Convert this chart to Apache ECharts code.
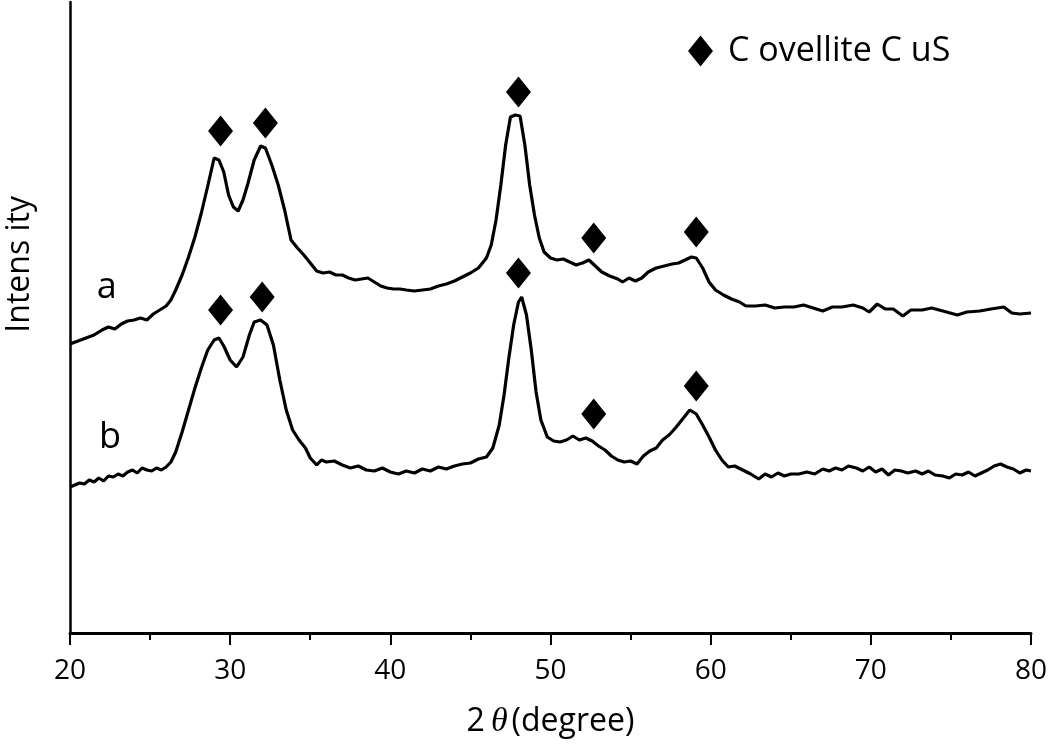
<!DOCTYPE html>
<html>
<head>
<meta charset="utf-8">
<script src="https://cdn.jsdelivr.net/npm/echarts@6/dist/echarts.min.js"></script>
<style>html,body{margin:0;padding:0;background:#fff;}#c{width:1050px;height:749px;}</style>
</head>
<body>
<div id="c"></div>
<script>
// 2θ ticks
const xTicks = [20, 30, 40, 50, 60, 70, 80];

// Curve a: [2θ, intensity (a.u.)]
const curveA = [
[20.0,289],[20.5,292],[21.0,295],[21.5,298],[22.0,303],[22.4,306],[22.8,304],[23.2,309],[23.6,312],[24.0,313],
[24.4,315],[24.8,313],[25.2,319],[25.6,323],[26.0,327],[26.3,333],[26.6,343],[27.0,358],[27.4,376],[27.8,396],
[28.2,420],[28.6,447],[29.0,475],[29.3,473],[29.6,461],[29.9,438],[30.2,426],[30.5,422],[30.8,433],[31.1,449],
[31.5,473],[31.9,487],[32.2,485],[32.6,468],[33.0,448],[33.4,423],[33.8,393],[34.2,385],[34.6,378],[35.0,370],
[35.4,362],[35.8,360],[36.2,361],[36.6,358],[37.0,358],[37.4,355],[37.8,353],[38.2,354],[38.6,355],[39.0,351],
[39.4,347],[39.8,345],[40.2,344],[40.6,344],[41.0,343],[41.5,342],[42.0,343],[42.5,344],[43.0,347],[43.5,349],
[44.0,352],[44.5,356],[45.0,360],[45.5,365],[46.0,375],[46.3,388],[46.6,413],[46.9,448],[47.2,488],[47.5,516],
[47.8,518],[48.1,517],[48.4,488],[48.7,448],[49.0,418],[49.3,395],[49.6,381],[50.0,375],[50.4,373],[50.8,374],
[51.2,371],[51.6,368],[52.0,370],[52.4,373],[52.8,367],[53.2,361],[53.7,357],[54.2,354],[54.5,351],[54.9,355],
[55.3,352],[55.7,355],[56.1,361],[56.6,365],[57.1,367],[57.6,369],[58.0,370],[58.4,373],[58.8,376],[59.1,375],
[59.5,365],[59.9,351],[60.3,343],[60.8,338],[61.3,334],[61.8,331],[62.2,327],[62.8,327],[63.4,328],[64.0,325],
[64.6,326],[65.2,326],[65.8,328],[66.4,325],[67.0,322],[67.6,326],[68.2,326],[68.9,328],[69.5,325],[69.9,321],
[70.4,329],[70.9,324],[71.4,324],[72.0,317],[72.5,323],[73.2,323],[73.8,325],[74.5,322],[75.4,318],[76.0,321],
[76.8,322],[77.5,324],[78.3,326],[78.8,320],[79.3,319],[80.0,320]
];

// Curve b: [2θ, intensity (a.u.)]
const curveB = [
[20.0,146],[20.3,148],[20.6,150],[20.9,149],[21.2,153],[21.5,151],[21.8,155],[22.1,152],[22.4,157],[22.7,156],
[23.0,159],[23.3,157],[23.6,161],[23.9,163],[24.2,160],[24.5,165],[24.8,163],[25.1,162],[25.4,165],[25.7,163],
[26.0,166],[26.3,171],[26.6,181],[27.0,201],[27.4,223],[27.8,245],[28.2,265],[28.6,283],[29.0,293],[29.3,295],
[29.6,287],[30.0,273],[30.4,266],[30.8,276],[31.2,298],[31.5,311],[31.9,313],[32.3,308],[32.7,288],[33.1,253],
[33.5,223],[33.9,203],[34.3,193],[34.7,185],[35.0,175],[35.4,168],[35.7,173],[36.0,171],[36.5,172],[37.0,168],
[37.5,165],[38.0,167],[38.5,163],[39.0,162],[39.5,165],[40.0,161],[40.5,159],[41.0,162],[41.5,160],[42.0,164],
[42.5,162],[43.0,166],[43.5,164],[44.0,167],[44.5,169],[45.0,170],[45.5,174],[46.0,176],[46.4,185],[46.8,208],
[47.1,238],[47.4,275],[47.7,308],[48.0,331],[48.2,336],[48.5,318],[48.8,283],[49.1,241],[49.4,213],[49.8,196],
[50.2,192],[50.6,191],[51.0,193],[51.4,197],[51.8,193],[52.2,195],[52.6,192],[53.0,187],[53.4,183],[53.8,177],
[54.2,173],[54.6,171],[55.0,172],[55.4,169],[55.8,177],[56.2,182],[56.6,185],[57.0,193],[57.4,198],[57.8,205],
[58.2,213],[58.7,223],[59.1,219],[59.5,208],[59.9,196],[60.3,183],[60.7,173],[61.1,166],[61.5,167],[62.0,163],
[62.5,159],[63.0,154],[63.4,159],[63.8,156],[64.2,160],[64.6,157],[65.0,159],[65.5,159],[66.0,161],[66.5,159],
[67.0,164],[67.4,162],[67.8,165],[68.2,163],[68.6,167],[69.1,165],[69.5,162],[69.9,166],[70.3,161],[70.7,164],
[71.1,158],[71.5,163],[71.9,162],[72.3,160],[72.8,162],[73.2,159],[73.6,162],[74.0,158],[74.5,157],[74.9,155],
[75.3,159],[75.7,158],[76.1,161],[76.5,157],[76.9,160],[77.3,163],[77.7,167],[78.1,169],[78.5,166],[78.9,164],
[79.3,160],[79.7,163],[80.0,162]
];

// Covellite CuS reflections marked above each curve
const peaksA = [[29.4,502],[32.2,510],[48.0,541],[52.7,395],[59.1,401]];
const peaksB = [[29.4,323],[32.0,336],[48.0,360],[52.7,219],[59.1,247]];

// curve labels
const curveLabels = [[22.3,345,'a'],[22.5,195,'b']];

const chart = echarts.init(document.getElementById('c'));
const FONT = 'Open Sans';
chart.setOption({
  animation: false,
  backgroundColor: '#ffffff',
  grid: { left: 70, right: 18, top: 2, bottom: 116 },
  legend: {
    data: [{ name: 'C ovellite C uS', icon: 'diamond', itemStyle: { color: '#000', opacity: 1 } }],
    left: 688, top: 34,
    itemWidth: 25, itemHeight: 31, padding: 0,
    textStyle: { fontFamily: FONT, fontSize: 34, color: '#000', padding: [0, 0, 0, 10] }
  },
  xAxis: {
    type: 'value', min: 20, max: 80, interval: 10,
    name: '2{t|θ}(degree)', nameLocation: 'middle', nameGap: 72,
    nameTextStyle: { fontFamily: FONT, fontSize: 32, color: '#000',
      rich: { t: { fontFamily: 'Liberation Serif', fontStyle: 'italic', fontSize: 34, color: '#000', padding: [0, 4, 0, 6] } } },
    axisLine: { show: true, onZero: false, lineStyle: { color: '#000', width: 3 } },
    axisTick: { show: true, length: 12, lineStyle: { color: '#000', width: 2 } },
    minorTick: { show: true, splitNumber: 2, length: 7, lineStyle: { color: '#000', width: 2 } },
    axisLabel: { fontFamily: FONT, fontSize: 28, color: '#000', margin: 24,
      formatter: v => xTicks.includes(v) ? String(v) : '' },
    splitLine: { show: false }
  },
  yAxis: {
    type: 'value', min: 0, max: 631,
    axisLine: { show: true, lineStyle: { color: '#000', width: 2.5 } },
    axisTick: { show: false }, axisLabel: { show: false }, splitLine: { show: false }
  },
  graphic: [{
    type: 'text', left: 4, top: 196, rotation: Math.PI / 2,
    style: { text: 'Intens ity', fontFamily: FONT, fontSize: 32, fill: '#000' }
  }],
  series: [
    { name: 'a', type: 'line', data: curveA, showSymbol: false, symbol: 'none',
      lineStyle: { color: '#000', width: 3.2 }, z: 3 },
    { name: 'b', type: 'line', data: curveB, showSymbol: false, symbol: 'none',
      lineStyle: { color: '#000', width: 3.2 }, z: 3 },
    { name: 'C ovellite C uS', type: 'scatter', data: peaksA.concat(peaksB), symbol: 'diamond',
      symbolSize: [25, 31], itemStyle: { color: '#000', opacity: 1 }, z: 4 },
    { name: 'labels', type: 'scatter', symbolSize: 0, itemStyle: { opacity: 1 },
      data: curveLabels.map(d => ({ value: [d[0], d[1]], label: { formatter: d[2] } })),
      label: { show: true, position: 'inside', fontFamily: FONT, fontSize: 36, color: '#000', opacity: 1 } }
  ]
});
</script>
</body>
</html>
